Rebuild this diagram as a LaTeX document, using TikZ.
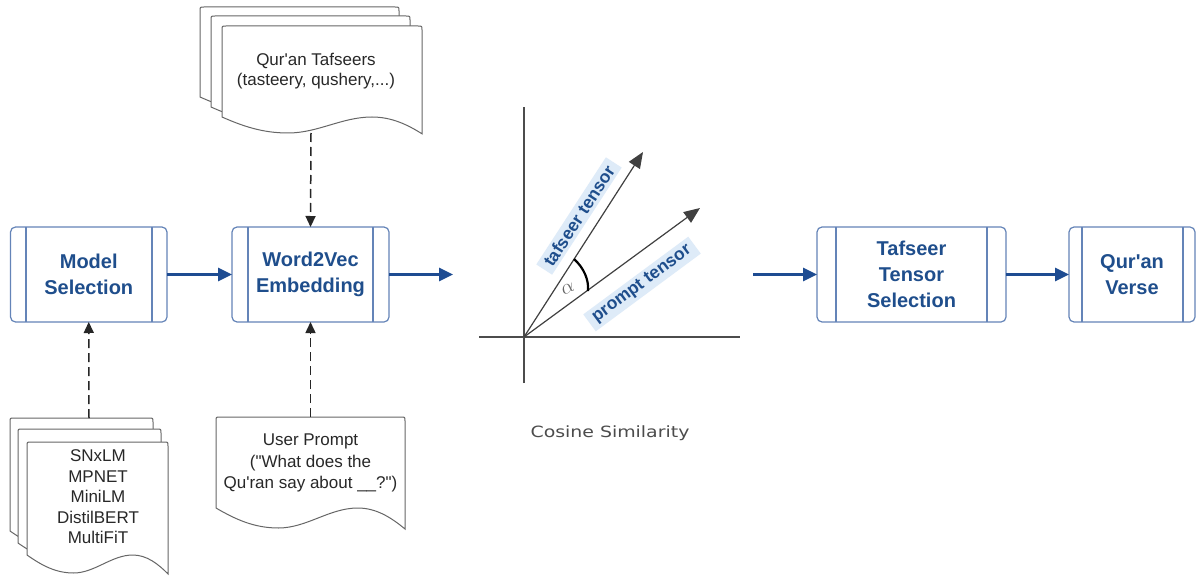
\documentclass[tikz,border=0pt]{standalone}
\usepackage{fontspec}
\setmainfont{Liberation Sans}
\newfontfamily\handfont{DejaVu Sans}
\usetikzlibrary{arrows.meta}
\newcommand{\straightapos}{\XeTeXglyph\XeTeXcharglyph"0027\relax}
\newcommand{\straightquote}{\XeTeXglyph\XeTeXcharglyph"0022\relax}
\definecolor{boxline}{RGB}{100,132,184}
\definecolor{boxtext}{RGB}{31,78,140}
\definecolor{flowblue}{RGB}{30,76,146}
\definecolor{labelbg}{RGB}{222,235,248}
\definecolor{doctext}{RGB}{40,40,40}
\tikzset{
  procbox/.style={draw=boxline, line width=1.2pt, rounded corners=5pt, fill=white,
    minimum height=95pt, text=boxtext, font=\fontsize{20}{26}\selectfont\bfseries,
    align=center, inner sep=0pt, outer sep=0pt},
  innerline/.style={draw=boxline, line width=1.2pt},
  flow/.style={draw=flowblue, line width=3pt, -{Triangle[length=14pt,width=13pt]}},
  dashflow/.style={draw=black!85, line width=1.5pt, dash pattern=on 9pt off 5pt,
    -{Triangle[length=11pt,width=10pt]}},
  doc/.style={draw=black!60, line width=1pt, fill=white},
  doctext/.style={text=doctext, font=\fontsize{17}{21}\selectfont, align=center, inner sep=0pt},
  axisline/.style={draw=black!70, line width=1.3pt},
  vec/.style={draw=black!75, line width=1.2pt, -{Triangle[length=16pt,width=13pt]}},
  tlabel/.style={fill=labelbg, text=boxtext, font=\fontsize{17.5}{19}\selectfont\bfseries,
    inner xsep=6pt, inner ysep=3pt},
}
% document sheet: L T R B(left bottom) a(wave depth)
\newcommand{\docsheet}[5]{%
  \pgfmathsetmacro\dsL{#1}\pgfmathsetmacro\dsT{#2}\pgfmathsetmacro\dsR{#3}%
  \pgfmathsetmacro\dsB{#4}\pgfmathsetmacro\dsA{#5}%
  \pgfmathsetmacro\dsW{\dsR-\dsL}%
  \pgfmathsetmacro\dsBa{\dsB+1.05*\dsA}%
  \pgfmathsetmacro\dsBd{\dsB+\dsA}%
  \pgfmathsetmacro\dsBh{\dsB+0.5*\dsA}%
  \pgfmathsetmacro\dsBm{\dsB+0.55*\dsA}%
  \pgfmathsetmacro\dsTa{\dsT+4}%
  \pgfmathsetmacro\dsLa{\dsL+4}%
  \pgfmathsetmacro\dsRa{\dsR-4}%
  \pgfmathsetmacro\xa{\dsR-0.07*\dsW}%
  \pgfmathsetmacro\xb{\dsR-0.15*\dsW}%
  \pgfmathsetmacro\xc{\dsL+0.75*\dsW}%
  \pgfmathsetmacro\xd{\dsL+0.60*\dsW}%
  \pgfmathsetmacro\xe{\dsL+0.48*\dsW}%
  \pgfmathsetmacro\xf{\dsL+0.33*\dsW}%
  \pgfmathsetmacro\xg{\dsL+0.20*\dsW}%
  \pgfmathsetmacro\xh{\dsL+0.10*\dsW}%
  \draw[doc] (\dsL,\dsB) -- (\dsL,\dsTa) .. controls (\dsL,\dsT) .. (\dsLa,\dsT)
    -- (\dsRa,\dsT) .. controls (\dsR,\dsT) .. (\dsR,\dsTa) -- (\dsR,\dsBa)
    .. controls (\xa,\dsBh) and (\xb,\dsB) .. (\xc,\dsB)
    .. controls (\xd,\dsB) and (\xe,\dsBd) .. (\xf,\dsBd)
    .. controls (\xg,\dsBd) and (\xh,\dsBm) .. (\dsL,\dsB) -- cycle;
}
\begin{document}
\begin{tikzpicture}[x=1pt,y=-1pt]
\useasboundingbox[fill=white] (0,0) rectangle (1198,580);

% ---- process boxes
\node[procbox, minimum width=156.5pt] (ms) at (88.75,274.5) {Model\\Selection};
\node[procbox, minimum width=157pt] (w2v) at (310.5,274.5) {Word2Vec\\Embedding};
\node[procbox, minimum width=189pt] (tts) at (911.5,274.5) {Tafseer\\Tensor\\Selection};
\node[procbox, minimum width=126pt] (qv) at (1132,274.5) {Qur\straightapos an\\Verse};
\draw[innerline] ([xshift=15.5pt]ms.north west) -- ([xshift=15.5pt]ms.south west);
\draw[innerline] ([xshift=-15pt]ms.north east) -- ([xshift=-15pt]ms.south east);
\draw[innerline] ([xshift=16pt]w2v.north west) -- ([xshift=16pt]w2v.south west);
\draw[innerline] ([xshift=-16pt]w2v.north east) -- ([xshift=-16pt]w2v.south east);
\draw[innerline] ([xshift=19pt]tts.north west) -- ([xshift=19pt]tts.south west);
\draw[innerline] ([xshift=-19pt]tts.north east) -- ([xshift=-19pt]tts.south east);
\draw[innerline] ([xshift=13pt]qv.north west) -- ([xshift=13pt]qv.south west);
\draw[innerline] ([xshift=-12pt]qv.north east) -- ([xshift=-12pt]qv.south east);

% ---- documents
\docsheet{200}{7}{399}{97}{16}
\docsheet{211}{16}{410}{107}{16}
\docsheet{222}{26}{422}{117}{16}
\node[doctext, font=\fontsize{17}{19.5}\selectfont] (taf) at (316,71) {Qur\straightapos an Tafseers\\(tasteery, qushery,...)};

\docsheet{10}{418}{153}{531}{18}
\docsheet{18}{429}{161}{543}{18}
\docsheet{27}{442}{168}{555}{18}
\node[doctext, font=\fontsize{17}{20.5}\selectfont] (mods) at (98,497) {SNxLM\\MPNET\\MiniLM\\DistilBERT\\MultiFiT};

\docsheet{216}{417}{405}{508}{20}
\node[doctext, font=\fontsize{17}{21.5}\selectfont] (up) at (310.5,463) {User Prompt\\(\straightquote What does the\\Qu\straightapos ran say about \_\_?\straightquote)};

% ---- connectors
\coordinate (tafbot) at (311,133);
\coordinate (modtop) at (89,418);
\coordinate (uptop) at (310.5,417);
\draw[dashflow] (tafbot) -- (w2v.north);
\draw[dashflow] (modtop) -- (ms.south);
\draw[dashflow] (uptop) -- (w2v.south);

\coordinate (w2vout) at (453,274.5);
\coordinate (ttsin) at (753,274.5);
\draw[flow] (ms.east) -- (w2v.west);
\draw[flow] (w2v.east) -- (w2vout);
\draw[flow] (ttsin) -- (tts.west);
\draw[flow] (tts.east) -- (qv.west);

% ---- cosine similarity plot
\coordinate (O) at (524,337);
\coordinate (ytop) at (524,107);
\coordinate (ybot) at (524,383);
\coordinate (xl) at (479,337);
\coordinate (xr) at (740,337);
\coordinate (vT) at (643,152);
\coordinate (vP) at (700,208);
\draw[axisline] (ybot) -- (ytop);
\draw[axisline] (xl) -- (xr);
\draw[vec] (O) -- (vT);
\draw[vec] (O) -- (vP);
\draw[black, line width=2.2pt] (574,259) .. controls (584,268) and (589,280) .. (588,291);
\node[text=black!60, font=\fontsize{22}{22}\selectfont, rotate=25] (alpha) at (568,289) {$\alpha$};
\node[tlabel, rotate=57] (tlab) at (579,216) {tafseer tensor};
\node[tlabel, rotate=36.5] (plab) at (642,284) {prompt tensor};
\node[text=black!70, font=\handfont\fontsize{15.5}{15.5}\selectfont] (cos) at (610,433) {\scalebox{1.22}[1]{Cosine Similarity}};
\end{tikzpicture}
\end{document}
